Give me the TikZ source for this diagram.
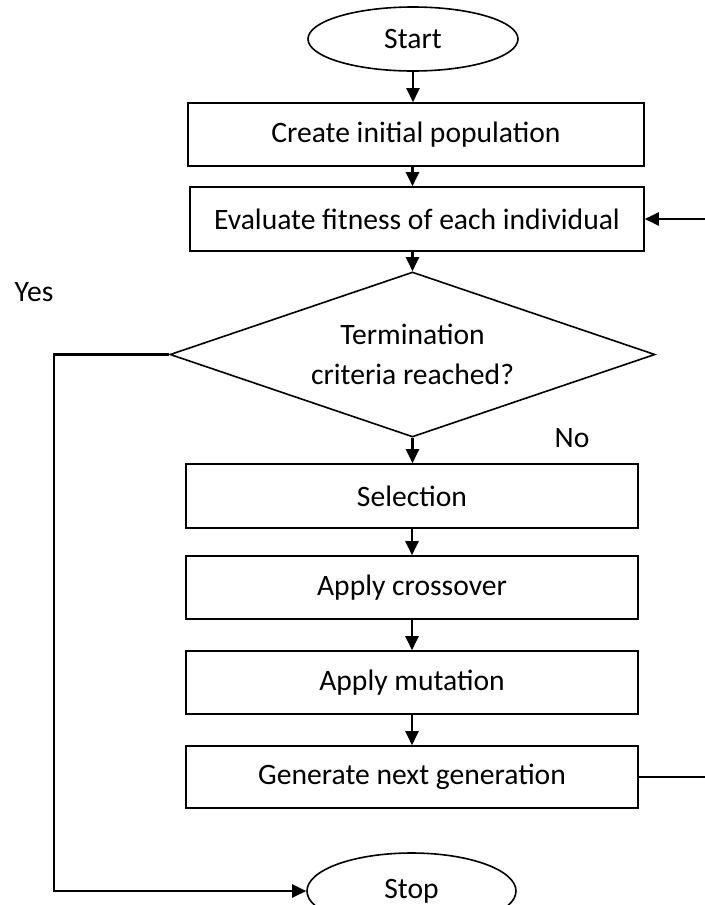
\documentclass[tikz,border=0pt]{standalone}
\usepackage{fontspec}
\setmainfont{Carlito}
\usepackage{tikz}
\usetikzlibrary{arrows.meta,positioning,shapes.geometric}

\begin{document}
\begin{tikzpicture}[x=0.5pt,y=-0.5pt,
  every node/.style={font=\fontsize{14.8pt}{20pt}\selectfont,align=center},
  proc/.style={draw,line width=0.8pt,minimum width=226pt,minimum height=31.5pt,inner sep=2pt},
  term/.style={draw,ellipse,line width=0.8pt,minimum width=105pt,minimum height=32pt,inner sep=0pt},
  decide/.style={draw,diamond,line width=0.8pt,aspect=2.94,minimum width=242.5pt,minimum height=82.5pt,inner sep=0pt},
  flow/.style={line width=1.1pt,-{Triangle[length=7pt,width=6.5pt]}},
  plain/.style={line width=1.1pt}]
  \useasboundingbox (0,0) rectangle (705,905);
  \node[term] (start) at (413,39) {Start};
  \node[proc,minimum width=228pt] (create) at (416,134.5) {Create initial population};
  \node[proc,minimum width=227pt,minimum height=32pt] (eval) at (417,219) {Evaluate fitness of each individual};
  \node[decide] (term) at (412.5,354.5) {Termination\\criteria reached?};
  \node[proc,minimum height=32pt] (sel) at (412,496) {Selection};
  \node[proc] (cross) at (412,587.5) {Apply crossover};
  \node[proc] (mut) at (412,682.5) {Apply mutation};
  \node[proc,minimum height=31pt] (gen) at (412,777) {Generate next generation};
  \node[term,minimum width=104.5pt,minimum height=38pt] (stop) at (411.5,891) {Stop};
  % branch labels
  \node (yes) at (34,292) {Yes};
  \node (no) at (572,438) {No};
  % main flow
  \draw[flow] (start.south) -- (start.south |- create.north);
  \draw[flow] (create.south -| term.north) -- (eval.north -| term.north);
  \draw[flow] (eval.south -| term.north) -- (term.north);
  \draw[flow] (term.south) -- (term.south |- sel.north);
  \draw[flow] (sel) -- (cross);
  \draw[flow] (cross) -- (mut);
  \draw[flow] (mut) -- (gen);
  % loops
  \coordinate (leftx) at (54,0);
  \coordinate (rightx) at (705,0);
  \draw[flow] (term.west) -- (term.west -| leftx) |- (stop.west);
  \draw[plain] (gen.east) -- (gen.east -| rightx);
  \draw[flow] (eval.east -| rightx) -- (eval.east);
\end{tikzpicture}
\end{document}
